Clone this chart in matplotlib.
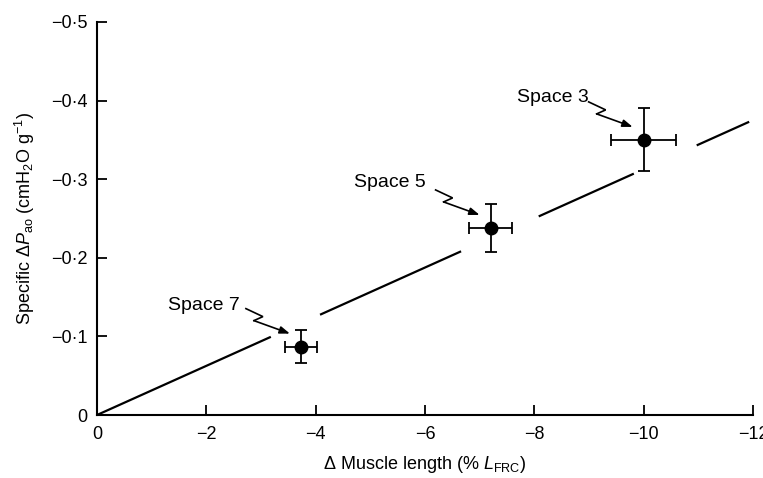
import matplotlib
matplotlib.use("Agg")
import matplotlib.pyplot as plt
import matplotlib.transforms as mtransforms
import numpy as np

plt.rcParams['font.family'] = ['Liberation Sans', 'DejaVu Sans']
plt.rcParams['mathtext.fontset'] = 'custom'
plt.rcParams['mathtext.rm'] = 'Liberation Sans'
plt.rcParams['mathtext.it'] = 'Liberation Sans:italic'
plt.rcParams['mathtext.bf'] = 'Liberation Sans:bold'

# ---- data ----
labels = ["Space 7", "Space 5", "Space 3"]
x_vals = [-3.73, -7.2, -10.0]
y_vals = [-0.087, -0.238, -0.35]
x_err = [0.29, 0.40, 0.60]
y_err = [0.021, 0.030, 0.040]

line_slope = 0.03127
seg_start = [0.0, -4.08, -8.08, -10.97]
seg_end = [-3.18, -6.66, -9.82, -11.93]

x_ticks = [0, -2, -4, -6, -8, -10, -12]
x_ticklabels = ["0", "\u22122", "\u22124", "\u22126", "\u22128", "\u221210", "\u221212"]
y_ticks = [0, -0.1, -0.2, -0.3, -0.4, -0.5]
y_ticklabels = ["0", "\u22120\u00b71", "\u22120\u00b72", "\u22120\u00b73", "\u22120\u00b74", "\u22120\u00b75"]

fig = plt.figure(figsize=(7.63, 4.78), dpi=100)
ax = fig.add_axes([97 / 763, 1 - 415 / 478, (753 - 97) / 763, (415 - 22) / 478])
ax.set_xlim(0, -12)
ax.set_ylim(0, -0.5)

# regression line segments
for s, e in zip(seg_start, seg_end):
    xs = np.array([s, e])
    ax.plot(xs, line_slope * xs, color='black', lw=1.6, solid_capstyle='butt')

# points with error bars
ax.errorbar(x_vals, y_vals, xerr=x_err, yerr=y_err, fmt='o', color='black',
            ms=9, elinewidth=1.3, capsize=4, capthick=1.3, zorder=3)

# zigzag arrows and labels (pixel offsets relative to point)
zig = [(-55, 38), (-38, 30), (-47, 26)]
tip = (-11, 13)
text_off = [(-61, 41), (-65, 45), (-55, 42)]
for lab, x, y, toff in zip(labels, x_vals, y_vals, text_off):
    base = ax.transData.transform((x, y))
    inv = ax.transData.inverted()
    dat = [inv.transform((base[0] + dx, base[1] + dy)) for dx, dy in zig]
    tip_d = inv.transform((base[0] + tip[0], base[1] + tip[1]))
    ax.plot([d[0] for d in dat], [d[1] for d in dat], color='black', lw=1.2,
            solid_joinstyle='miter')
    ax.annotate('', xy=tuple(tip_d), xycoords='data', xytext=tuple(dat[-1]), textcoords='data',
                arrowprops=dict(arrowstyle='-|>,head_length=0.6,head_width=0.22', color='black',
                                lw=1.2, shrinkA=0, shrinkB=0))
    t_tr = mtransforms.offset_copy(ax.transData, fig=fig, x=toff[0], y=toff[1], units='dots')
    ax.text(x, y, lab, transform=t_tr, ha='right', va='center', fontsize=14)

ax.set_xticks(x_ticks)
ax.set_xticklabels(x_ticklabels)
ax.set_yticks(y_ticks)
ax.set_yticklabels(y_ticklabels)

for side in ['top', 'right']:
    ax.spines[side].set_visible(False)
for side in ['left', 'bottom']:
    ax.spines[side].set_linewidth(1.5)

ax.tick_params(axis='both', direction='in', length=7, width=1.3, labelsize=13)
ax.tick_params(axis='x', pad=8)
ax.tick_params(axis='y', pad=7)

ax.set_xlabel(r'$\Delta$ Muscle length (% $\mathit{L}_{\mathrm{FRC}}$)', fontsize=13, labelpad=8)
ax.set_ylabel(r'Specific $\Delta\mathit{P}_{\mathrm{ao}}$ (cmH$_2$O g$^{-1}$)', fontsize=13, labelpad=10)

fig.savefig('out.png', dpi=100)
